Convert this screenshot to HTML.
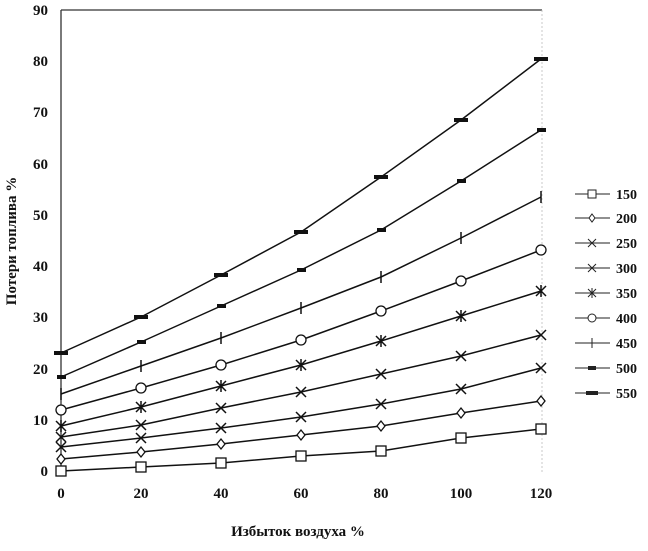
<!DOCTYPE html>
<html><head><meta charset="utf-8"><style>
body{margin:0;background:#fff}
svg text{font-family:"Liberation Serif","Noto Serif CJK SC",serif;font-weight:bold;fill:#111}
</style></head><body>
<svg width="648" height="546" viewBox="0 0 648 546" xmlns="http://www.w3.org/2000/svg">
<rect width="648" height="546" fill="#fff"/>
<line x1="61" y1="10" x2="61" y2="472" stroke="#222" stroke-width="1.2"/>
<line x1="61" y1="10" x2="542" y2="10" stroke="#333" stroke-width="1.2"/>
<line x1="542" y1="10" x2="542" y2="472" stroke="#bbb" stroke-width="0.8" stroke-dasharray="2,2"/>
<g font-size="15" text-anchor="end">
<text x="48" y="476">0</text><text x="48" y="425">10</text><text x="48" y="374">20</text>
<text x="48" y="322">30</text><text x="48" y="271">40</text><text x="48" y="220">50</text>
<text x="48" y="169">60</text><text x="48" y="117">70</text><text x="48" y="66">80</text><text x="48" y="15">90</text>
</g>
<g font-size="15" text-anchor="middle">
<text x="61" y="498">0</text><text x="141" y="498">20</text><text x="221" y="498">40</text>
<text x="301" y="498">60</text><text x="381" y="498">80</text><text x="461" y="498">100</text><text x="541" y="498">120</text>
</g>
<text x="298" y="536" font-size="15" text-anchor="middle">Избыток воздуха %</text>
<text transform="translate(16,241) rotate(-90)" font-size="15" text-anchor="middle">Потери топлива %</text>
<g fill="none" stroke="#111" stroke-width="1.5">
<polyline points="61,471 141,467 221,463 301,456 381,451 461,438 541,429"/>
<polyline points="61,459 141,452 221,444 301,435 381,426 461,413 541,401"/>
<polyline points="61,447 141,438 221,428 301,417 381,404 461,389 541,368"/>
<polyline points="61,437 141,425 221,408 301,392 381,374 461,356 541,335"/>
<polyline points="61,426 141,407 221,386 301,365 381,341 461,316 541,291"/>
<polyline points="61,410 141,388 221,365 301,340 381,311 461,281 541,250"/>
<polyline points="61,394 141,366 221,338 301,308 381,277 461,238 541,197"/>
<polyline points="61,377 141,342 221,306 301,270 381,230 461,181 541,130"/>
<polyline points="61,353 141,317 221,275 301,232 381,177 461,120 541,59"/>
</g>
<g fill="#fff" stroke="#111" stroke-width="1.3">
<!-- 150 squares -->
<g><rect x="56" y="466" width="10" height="10"/><rect x="136" y="462" width="10" height="10"/><rect x="216" y="458" width="10" height="10"/><rect x="296" y="451" width="10" height="10"/><rect x="376" y="446" width="10" height="10"/><rect x="456" y="433" width="10" height="10"/><rect x="536" y="424" width="10" height="10"/></g>
<!-- 200 diamonds -->
<g><path d="M61,454l4,5l-4,5l-4,-5z"/><path d="M141,447l4,5l-4,5l-4,-5z"/><path d="M221,439l4,5l-4,5l-4,-5z"/><path d="M301,430l4,5l-4,5l-4,-5z"/><path d="M381,421l4,5l-4,5l-4,-5z"/><path d="M461,408l4,5l-4,5l-4,-5z"/><path d="M541,396l4,5l-4,5l-4,-5z"/></g>
<!-- 400 circles -->
<g><circle cx="61" cy="410" r="5"/><circle cx="141" cy="388" r="5"/><circle cx="221" cy="365" r="5"/><circle cx="301" cy="340" r="5"/><circle cx="381" cy="311" r="5"/><circle cx="461" cy="281" r="5"/><circle cx="541" cy="250" r="5"/></g>
</g>
<g stroke="#111" stroke-width="1.5" fill="none">
<path d="M56,442l10,10M66,442l-10,10 M136,433l10,10M146,433l-10,10 M216,423l10,10M226,423l-10,10 M296,412l10,10M306,412l-10,10 M376,399l10,10M386,399l-10,10 M456,384l10,10M466,384l-10,10 M536,363l10,10M546,363l-10,10"/>
<path d="M56,432l10,10M66,432l-10,10 M136,420l10,10M146,420l-10,10 M216,403l10,10M226,403l-10,10 M296,387l10,10M306,387l-10,10 M376,369l10,10M386,369l-10,10 M456,351l10,10M466,351l-10,10 M536,330l10,10M546,330l-10,10"/>
<path d="M56,421l10,10M66,421l-10,10M61,420v12 M136,402l10,10M146,402l-10,10M141,401v12 M216,381l10,10M226,381l-10,10M221,380v12 M296,360l10,10M306,360l-10,10M301,359v12 M376,336l10,10M386,336l-10,10M381,335v12 M456,311l10,10M466,311l-10,10M461,310v12 M536,286l10,10M546,286l-10,10M541,285v12"/>
<path d="M61,388v12 M141,360v12 M221,332v12 M301,302v12 M381,271v12 M461,232v12 M541,191v12"/>
</g>
<g fill="#111">
<rect x="57" y="375" width="9" height="4"/><rect x="137" y="340" width="9" height="4"/><rect x="217" y="304" width="9" height="4"/><rect x="297" y="268" width="9" height="4"/><rect x="377" y="228" width="9" height="4"/><rect x="457" y="179" width="9" height="4"/><rect x="537" y="128" width="9" height="4"/>
<rect x="54" y="351" width="14" height="4"/><rect x="134" y="315" width="14" height="4"/><rect x="214" y="273" width="14" height="4"/><rect x="294" y="230" width="14" height="4"/><rect x="374" y="175" width="14" height="4"/><rect x="454" y="118" width="14" height="4"/><rect x="534" y="57" width="14" height="4"/>
</g>
<!-- legend -->
<g stroke="#222" stroke-width="1" fill="none">
<line x1="575" y1="194" x2="610" y2="194"/><line x1="575" y1="218" x2="610" y2="218"/><line x1="575" y1="243" x2="610" y2="243"/>
<line x1="575" y1="268" x2="610" y2="268"/><line x1="575" y1="293" x2="610" y2="293"/><line x1="575" y1="318" x2="610" y2="318"/>
<line x1="575" y1="343" x2="610" y2="343"/><line x1="575" y1="368" x2="610" y2="368"/><line x1="575" y1="393" x2="610" y2="393"/>
<rect x="588" y="190" width="8" height="8" fill="#fff"/>
<path d="M592,214l3,4l-3,4l-3,-4z" fill="#fff"/>
<path d="M588,239l8,8M596,239l-8,8 M588,264l8,8M596,264l-8,8 M588,289l8,8M596,289l-8,8M592,288v10"/>
<circle cx="592" cy="318" r="4" fill="#fff"/>
<path d="M592,338v10"/>
</g>
<rect x="588" y="366" width="8" height="4" fill="#222"/><rect x="586" y="391" width="12" height="4" fill="#222"/>
<g font-size="14">
<text x="616" y="199">150</text><text x="616" y="223">200</text><text x="616" y="248">250</text>
<text x="616" y="273">300</text><text x="616" y="298">350</text><text x="616" y="323">400</text>
<text x="616" y="348">450</text><text x="616" y="373">500</text><text x="616" y="398">550</text>
</g>
</svg>
</body></html>
